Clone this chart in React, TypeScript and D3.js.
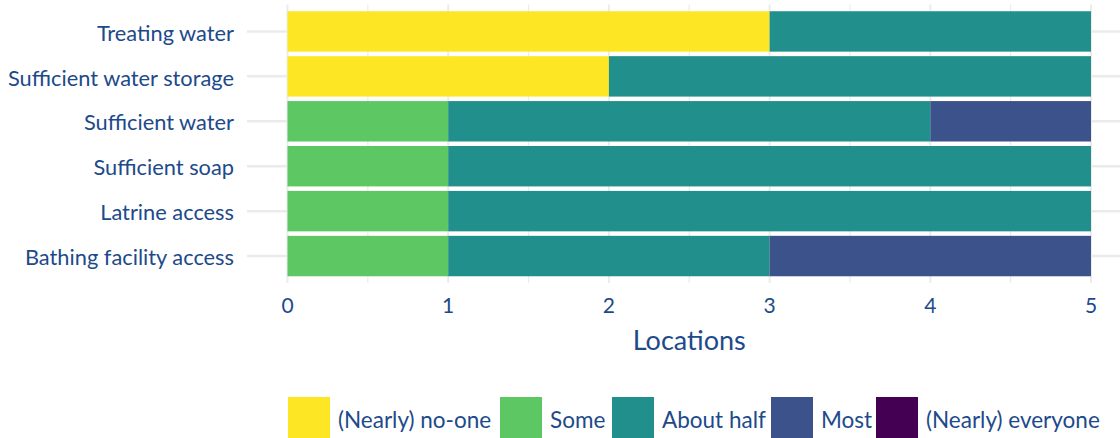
import React from "react";
import * as d3 from "d3";

const categories = [
  "Treating water",
  "Sufficient water storage",
  "Sufficient water",
  "Sufficient soap",
  "Latrine access",
  "Bathing facility access",
];
const levels = ["(Nearly) no-one", "Some", "About half", "Most", "(Nearly) everyone"];
const levelColors = ["#FDE725", "#5DC863", "#21908C", "#3B528B", "#440154"];

const noOne = [3, 2, 0, 0, 0, 0];
const some = [0, 0, 1, 1, 1, 1];
const aboutHalf = [2, 3, 3, 4, 4, 2];
const most = [0, 0, 1, 0, 0, 2];
const everyone = [0, 0, 0, 0, 0, 0];

const xTicks = [0, 1, 2, 3, 4, 5];
const xMinor = [0.5, 1.5, 2.5, 3.5, 4.5];

const W = 1120;
const H = 438;
const textColor = "#1D4A8A";
const font = "Lato, 'Open Sans', sans-serif";

export default function App() {
  const series = [noOne, some, aboutHalf, most, everyone];
  const rows = categories.map((c, i) => {
    const r: any = { cat: c };
    levels.forEach((l, j) => (r[l] = series[j][i]));
    return r;
  });
  const stacked = d3.stack<any>().keys(levels)(rows);

  const panelLeft = 247;
  const panelRight = 1120;
  const panelTop = 4.5;
  const panelBottom = 283;
  const x = d3.scaleLinear().domain([0, 5]).range([287.5, 1091]);
  const step = (panelBottom - panelTop) / (categories.length + 0.2);
  const y = d3
    .scaleBand()
    .domain(categories)
    .range([panelTop + 0.6 * step - step / 2, panelBottom - 0.6 * step + step / 2])
    .paddingInner(0.1)
    .paddingOuter(0.05);

  const grid = "#EBEBEB";

  const legendX = [288, 500, 612, 771, 876];

  return (
    <svg width={W} height={H} style={{ display: "block", position: "absolute", left: 0, top: 0 }}>
      <rect width={W} height={H} fill="white" />
      {/* grid */}
      {xMinor.map((t) => (
        <line key={"mn" + t} x1={x(t)} x2={x(t)} y1={panelTop} y2={panelBottom} stroke={grid} strokeWidth={1.2} />
      ))}
      {xTicks.map((t) => (
        <line key={"mj" + t} x1={x(t)} x2={x(t)} y1={panelTop} y2={panelBottom} stroke={grid} strokeWidth={2} />
      ))}
      {categories.map((c) => (
        <line
          key={"hg" + c}
          x1={panelLeft}
          x2={panelRight}
          y1={y(c)! + y.bandwidth() / 2}
          y2={y(c)! + y.bandwidth() / 2}
          stroke={grid}
          strokeWidth={2.5}
        />
      ))}
      {/* bars */}
      {stacked.map((s, j) =>
        s.map((d, i) =>
          d[1] - d[0] > 0 ? (
            <rect
              key={j + "-" + i}
              x={x(d[0])}
              width={x(d[1]) - x(d[0])}
              y={y(categories[i])}
              height={y.bandwidth()}
              fill={levelColors[j]}
            />
          ) : null
        )
      )}
      {/* y labels */}
      {categories.map((c) => (
        <text
          key={"yl" + c}
          x={234}
          y={y(c)! + y.bandwidth() / 2 + 1.5}
          dy="0.35em"
          textAnchor="end"
          fontFamily={font}
          fontSize={21.8}
          fill={textColor}
        >
          {c}
        </text>
      ))}
      {/* x tick labels */}
      {xTicks.map((t) => (
        <text
          key={"xl" + t}
          x={x(t)}
          y={313}
          textAnchor="middle"
          fontFamily={font}
          fontSize={21}
          fill={textColor}
        >
          {t}
        </text>
      ))}
      <text x={(x(0) + x(5)) / 2} y={350} textAnchor="middle" fontFamily={font} fontSize={27} fill={textColor}>
        Locations
      </text>
      {/* legend */}
      {levels.map((l, j) => (
        <g key={"lg" + l}>
          <rect x={legendX[j]} y={397} width={42} height={41} fill={levelColors[j]} />
          <text x={legendX[j] + 50} y={428} fontFamily={font} fontSize={22.5} fill={textColor}>
            {l}
          </text>
        </g>
      ))}
    </svg>
  );
}
